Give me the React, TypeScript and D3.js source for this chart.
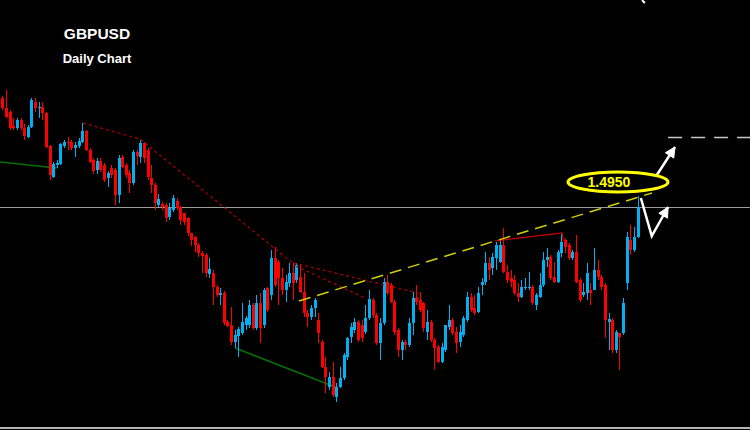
import React from "react";
import * as d3 from "d3";

const opens = [
  1.551, 1.546, 1.544, 1.537, 1.536, 1.540, 1.536, 1.5315, 1.5365, 1.549,
  1.546, 1.5465, 1.5435, 1.527, 1.5115, 1.5175, 1.518, 1.527, 1.529, 1.529,
  1.526, 1.527, 1.529, 1.5345, 1.525, 1.520, 1.515, 1.5195, 1.5175, 1.511,
  1.516, 1.515, 1.5025, 1.5215, 1.5175, 1.5135, 1.5085, 1.524, 1.5215, 1.5285,
  1.525, 1.511, 1.5075, 1.4975, 1.498, 1.4975, 1.4915, 1.495, 1.4995, 1.4965,
  1.4935, 1.491, 1.4835, 1.4815, 1.4775, 1.4735, 1.4725, 1.463, 1.4635, 1.4565,
  1.4525, 1.4535, 1.439, 1.4375, 1.429, 1.432, 1.4335, 1.4375, 1.4375, 1.4475,
  1.436, 1.4485, 1.4375, 1.456, 1.4525, 1.471, 1.469, 1.461, 1.455, 1.4585,
  1.4635, 1.460, 1.4615, 1.454, 1.4435, 1.4415, 1.446, 1.440, 1.429, 1.4165,
  1.4065, 1.4115, 1.4015, 1.4065, 1.411, 1.4215, 1.4315, 1.435, 1.439, 1.4375,
  1.434, 1.441, 1.450, 1.4425, 1.4285, 1.4385, 1.459, 1.4575, 1.449, 1.435,
  1.425, 1.429, 1.4275, 1.4385, 1.451, 1.450, 1.4485, 1.434, 1.439, 1.430,
  1.4265, 1.419, 1.425, 1.4365, 1.440, 1.434, 1.429, 1.4325, 1.440, 1.4515,
  1.446, 1.444, 1.4575, 1.459, 1.4685, 1.466, 1.471, 1.469, 1.4775, 1.464,
  1.461, 1.460, 1.4535, 1.4515, 1.456, 1.456, 1.4565, 1.4475, 1.4515, 1.4575,
  1.470, 1.4715, 1.4615, 1.459, 1.4735, 1.480, 1.4775, 1.471, 1.474, 1.460,
  1.4525, 1.4535, 1.455, 1.455, 1.465, 1.4615, 1.4575, 1.439, 1.440, 1.425,
  1.4335, 1.4335, 1.4585, 1.480, 1.475, 1.4815,
];
const highs = [
  1.552, 1.555, 1.545, 1.541, 1.541, 1.541, 1.538, 1.5375, 1.551, 1.551,
  1.549, 1.549, 1.544, 1.5275, 1.519, 1.520, 1.5285, 1.530, 1.5315, 1.530,
  1.529, 1.531, 1.5385, 1.535, 1.526, 1.521, 1.521, 1.521, 1.5185, 1.5145,
  1.5175, 1.516, 1.5225, 1.5225, 1.5185, 1.515, 1.525, 1.525, 1.530, 1.529,
  1.526, 1.5175, 1.5085, 1.503, 1.499, 1.4985, 1.4985, 1.5025, 1.501, 1.497,
  1.4935, 1.4915, 1.4835, 1.482, 1.4785, 1.4745, 1.4735, 1.471, 1.465, 1.4575,
  1.456, 1.4545, 1.440, 1.4465, 1.435, 1.4365, 1.4485, 1.442, 1.450, 1.4485,
  1.4525, 1.4535, 1.456, 1.4565, 1.475, 1.4765, 1.470, 1.466, 1.4625, 1.4685,
  1.4685, 1.4685, 1.4675, 1.4635, 1.445, 1.4475, 1.451, 1.4435, 1.430, 1.4215,
  1.414, 1.419, 1.4085, 1.4165, 1.4235, 1.4315, 1.4385, 1.441, 1.440, 1.440,
  1.4475, 1.455, 1.451, 1.4435, 1.441, 1.461, 1.4625, 1.4585, 1.450, 1.436,
  1.430, 1.430, 1.441, 1.454, 1.4575, 1.454, 1.449, 1.445, 1.440, 1.431,
  1.4275, 1.4285, 1.4375, 1.4475, 1.441, 1.4365, 1.4375, 1.442, 1.454, 1.4535,
  1.4525, 1.4565, 1.461, 1.474, 1.4715, 1.4735, 1.479, 1.480, 1.486, 1.4675,
  1.465, 1.4625, 1.4585, 1.460, 1.461, 1.464, 1.4575, 1.4535, 1.4635, 1.474,
  1.476, 1.4725, 1.469, 1.475, 1.4835, 1.481, 1.4785, 1.475, 1.4825, 1.461,
  1.4585, 1.4685, 1.4585, 1.476, 1.470, 1.4625, 1.4585, 1.4435, 1.441, 1.435,
  1.4335, 1.451, 1.484, 1.4875, 1.4865, 1.502,
];
const lows = [
  1.545, 1.541, 1.535, 1.535, 1.535, 1.535, 1.530, 1.531, 1.536, 1.544,
  1.541, 1.540, 1.526, 1.510, 1.511, 1.516, 1.5175, 1.526, 1.525, 1.525,
  1.5215, 1.526, 1.5285, 1.5245, 1.5185, 1.513, 1.513, 1.514, 1.509, 1.5065,
  1.511, 1.4975, 1.4985, 1.516, 1.511, 1.5035, 1.5075, 1.5175, 1.5185, 1.5185,
  1.510, 1.5035, 1.495, 1.4965, 1.495, 1.489, 1.490, 1.494, 1.495, 1.4875,
  1.4875, 1.482, 1.477, 1.474, 1.4715, 1.4635, 1.4615, 1.461, 1.4475, 1.4515,
  1.4475, 1.4375, 1.4365, 1.4275, 1.426, 1.4215, 1.4325, 1.435, 1.436, 1.435,
  1.435, 1.4285, 1.436, 1.444, 1.450, 1.4565, 1.4475, 1.4525, 1.449, 1.4565,
  1.450, 1.4585, 1.4535, 1.4415, 1.4365, 1.440, 1.4415, 1.4285, 1.416, 1.4035,
  1.405, 1.4015, 1.399, 1.406, 1.410, 1.420, 1.4285, 1.4335, 1.429, 1.429,
  1.433, 1.440, 1.441, 1.4275, 1.420, 1.4375, 1.4525, 1.4485, 1.4325, 1.4215,
  1.420, 1.425, 1.4265, 1.4325, 1.4475, 1.444, 1.434, 1.430, 1.429, 1.415,
  1.4185, 1.4185, 1.424, 1.435, 1.4325, 1.4235, 1.4265, 1.4315, 1.439, 1.444,
  1.4425, 1.4435, 1.4525, 1.4575, 1.460, 1.4625, 1.465, 1.4685, 1.4635, 1.4585,
  1.4565, 1.4525, 1.449, 1.451, 1.455, 1.455, 1.4475, 1.445, 1.451, 1.4565,
  1.4665, 1.460, 1.4585, 1.4585, 1.4715, 1.4735, 1.470, 1.470, 1.4585, 1.449,
  1.4515, 1.450, 1.4475, 1.455, 1.460, 1.455, 1.431, 1.425, 1.4235, 1.4235,
  1.415, 1.4325, 1.455, 1.4725, 1.474, 1.481,
];
const closes = [
  1.546, 1.5415, 1.536, 1.536, 1.540, 1.536, 1.532, 1.5365, 1.550, 1.546,
  1.5465, 1.5435, 1.5265, 1.5125, 1.518, 1.5185, 1.528, 1.529, 1.5285, 1.526,
  1.5275, 1.5295, 1.5345, 1.525, 1.519, 1.5145, 1.5195, 1.515, 1.510, 1.5135,
  1.5125, 1.5025, 1.521, 1.5165, 1.5125, 1.5085, 1.524, 1.522, 1.5285, 1.521,
  1.5115, 1.5075, 1.4985, 1.5005, 1.4965, 1.491, 1.496, 1.501, 1.496, 1.490,
  1.489, 1.4835, 1.480, 1.4775, 1.4735, 1.472, 1.4635, 1.4655, 1.4565, 1.4525,
  1.4535, 1.4385, 1.437, 1.429, 1.4325, 1.4355, 1.439, 1.441, 1.4475, 1.436,
  1.4485, 1.436, 1.455, 1.445, 1.471, 1.4575, 1.461, 1.455, 1.459, 1.4635,
  1.4585, 1.4675, 1.454, 1.4435, 1.4415, 1.446, 1.450, 1.4335, 1.4165, 1.4115,
  1.4115, 1.4025, 1.4065, 1.411, 1.4225, 1.431, 1.4365, 1.439, 1.430, 1.431,
  1.441, 1.4505, 1.4425, 1.4285, 1.4385, 1.459, 1.4535, 1.449, 1.434, 1.425,
  1.429, 1.4275, 1.4385, 1.451, 1.449, 1.445, 1.436, 1.439, 1.430, 1.426,
  1.419, 1.4265, 1.4375, 1.440, 1.4335, 1.4285, 1.434, 1.441, 1.4515, 1.445,
  1.4435, 1.4535, 1.459, 1.4685, 1.465, 1.4715, 1.4775, 1.4775, 1.464, 1.460,
  1.459, 1.4535, 1.4515, 1.4565, 1.4565, 1.4565, 1.4485, 1.4525, 1.4575, 1.470,
  1.4715, 1.461, 1.459, 1.474, 1.479, 1.4765, 1.471, 1.474, 1.459, 1.450,
  1.454, 1.4635, 1.4535, 1.465, 1.4615, 1.4565, 1.440, 1.4405, 1.425, 1.434,
  1.4315, 1.4485, 1.4815, 1.475, 1.4815, 1.4965,
];

const titleText = "GBPUSD";
const subtitleText = "Daily Chart";
const levelLabel = "1.4950";

// annotation lines, as [bar index, price]
const greenLine1 = [[-0.7, 1.519], [15, 1.516]];
const greenLine2 = [[64.1, 1.426], [92.4, 1.406]];
const redDashTop = [[22.2, 1.5385], [37.9, 1.5305], [80.6, 1.4675]];
const redDashUpper = [[80.2, 1.4685], [114.5, 1.4535], [114.6, 1.449]];
const redDashLower = [[80.8, 1.467], [99.9, 1.451]];
const redSolid = [[135.7, 1.4795], [154.2, 1.4835], [154.5, 1.4795]];
const yellowTrend = [[81.7, 1.4495], [178.95, 1.5035]];
const arrowUp = [[180.3, 1.5125], [185.3, 1.5265]];
const arrowZig = [[175.9, 1.501], [178.9, 1.482], [183.4, 1.4965]];
const topMark = [[176.2, 1.6], [177.0, 1.5985]];
const targetLevel = 1.5315;
const targetStart = 183.4;
const labelCenter = [169.6, 1.509];
const bidPrice = 1.4965;

export default function App() {
  const W = 750;
  const H = 430;
  const N = closes.length;
  const x = d3.scaleLinear().domain([0, N - 1]).range([2.4, 637.6]);
  const y = d3.scaleLinear().domain([1.385, 1.6]).range([430, 0]);
  const line = d3
    .line<number[]>()
    .x((d) => x(d[0]))
    .y((d) => y(d[1]));

  const up = "#00b0f0";
  const down = "#ff0000";

  const head = (pts: number[][]) => {
    const a = pts[pts.length - 2];
    const b = pts[pts.length - 1];
    const x1 = x(a[0]), y1 = y(a[1]), x2 = x(b[0]), y2 = y(b[1]);
    const ang = Math.atan2(y2 - y1, x2 - x1);
    const L = 10, Wd = 5;
    const bx = x2 - L * Math.cos(ang), by = y2 - L * Math.sin(ang);
    const px = -Math.sin(ang) * Wd, py = Math.cos(ang) * Wd;
    return `M${x2},${y2}L${bx + px},${by + py}L${bx - px},${by - py}Z`;
  };

  const bidY = Math.round(y(bidPrice)) + 0.5;
  const tY = Math.round(y(targetLevel)) + 0.5;
  const font = "Liberation Sans, Arial, sans-serif";

  return (
    <div style={{ position: "fixed", left: 0, top: 0, width: W, height: H, background: "#000" }}>
      <svg width={W} height={H} style={{ display: "block" }}>
        <rect x={0} y={0} width={W} height={H} fill="#000" />
        <line x1={0} x2={W} y1={bidY} y2={bidY} stroke="#9c9c9c" strokeWidth={1} />
        <rect x={0} y={427} width={W} height={2} fill="#b4b4b4" />

        <path d={line(greenLine1 as any) || ""} stroke="#087008" strokeWidth={1.5} fill="none" />
        <path d={line(greenLine2 as any) || ""} stroke="#087008" strokeWidth={1.5} fill="none" />

        {closes.map((c, i) => {
          const o = opens[i];
          const col = c >= o ? up : down;
          const xc = Math.round(x(i));
          const top = y(Math.max(o, c));
          const bot = y(Math.min(o, c));
          return (
            <g key={i}>
              <rect x={xc} y={y(highs[i])} width={1} height={Math.max(1, y(lows[i]) - y(highs[i]))} fill={col} />
              <rect x={xc - 1} y={top} width={3} height={Math.max(1, bot - top)} fill={col} />
            </g>
          );
        })}

        <path d={line(redDashTop as any) || ""} stroke="#b00000" strokeWidth={1.2} strokeDasharray="3,3" fill="none" />
        <path d={line(redDashUpper as any) || ""} stroke="#b00000" strokeWidth={1.2} strokeDasharray="3,3" fill="none" />
        <path d={line(redDashLower as any) || ""} stroke="#b00000" strokeWidth={1.2} strokeDasharray="3,3" fill="none" />
        <path d={line(redSolid as any) || ""} stroke="#d00000" strokeWidth={1.2} fill="none" />
        <path d={line(yellowTrend as any) || ""} stroke="#d0d000" strokeWidth={1.5} strokeDasharray="12,7" fill="none" />

        <line x1={x(targetStart)} x2={W} y1={tY} y2={tY} stroke="#c8c8c8" strokeWidth={1.5} strokeDasharray="14,9" />

        <path d={line(arrowUp as any) || ""} stroke="#fff" strokeWidth={2.5} fill="none" />
        <path d={head(arrowUp)} fill="#fff" stroke="#fff" strokeWidth={1} />
        <path d={line(arrowZig as any) || ""} stroke="#fff" strokeWidth={2.5} fill="none" strokeLinejoin="miter" />
        <path d={head(arrowZig)} fill="#fff" stroke="#fff" strokeWidth={1} />
        <path d={line(topMark as any) || ""} stroke="#fff" strokeWidth={2} fill="none" />

        <ellipse cx={x(labelCenter[0])} cy={y(labelCenter[1])} rx={50} ry={10} fill="none" stroke="#ffff00" strokeWidth={3} />
        <text x={x(labelCenter[0]) - 9} y={y(labelCenter[1]) + 5} textAnchor="middle" fill="#ffff00" fontFamily={font} fontWeight="bold" fontSize={14}>
          {levelLabel}
        </text>

        <text x={97} y={39} textAnchor="middle" fill="#fff" fontFamily={font} fontWeight="bold" fontSize={15.5}>
          {titleText}
        </text>
        <text x={97} y={63} textAnchor="middle" fill="#fff" fontFamily={font} fontWeight="bold" fontSize={13}>
          {subtitleText}
        </text>
      </svg>
    </div>
  );
}
